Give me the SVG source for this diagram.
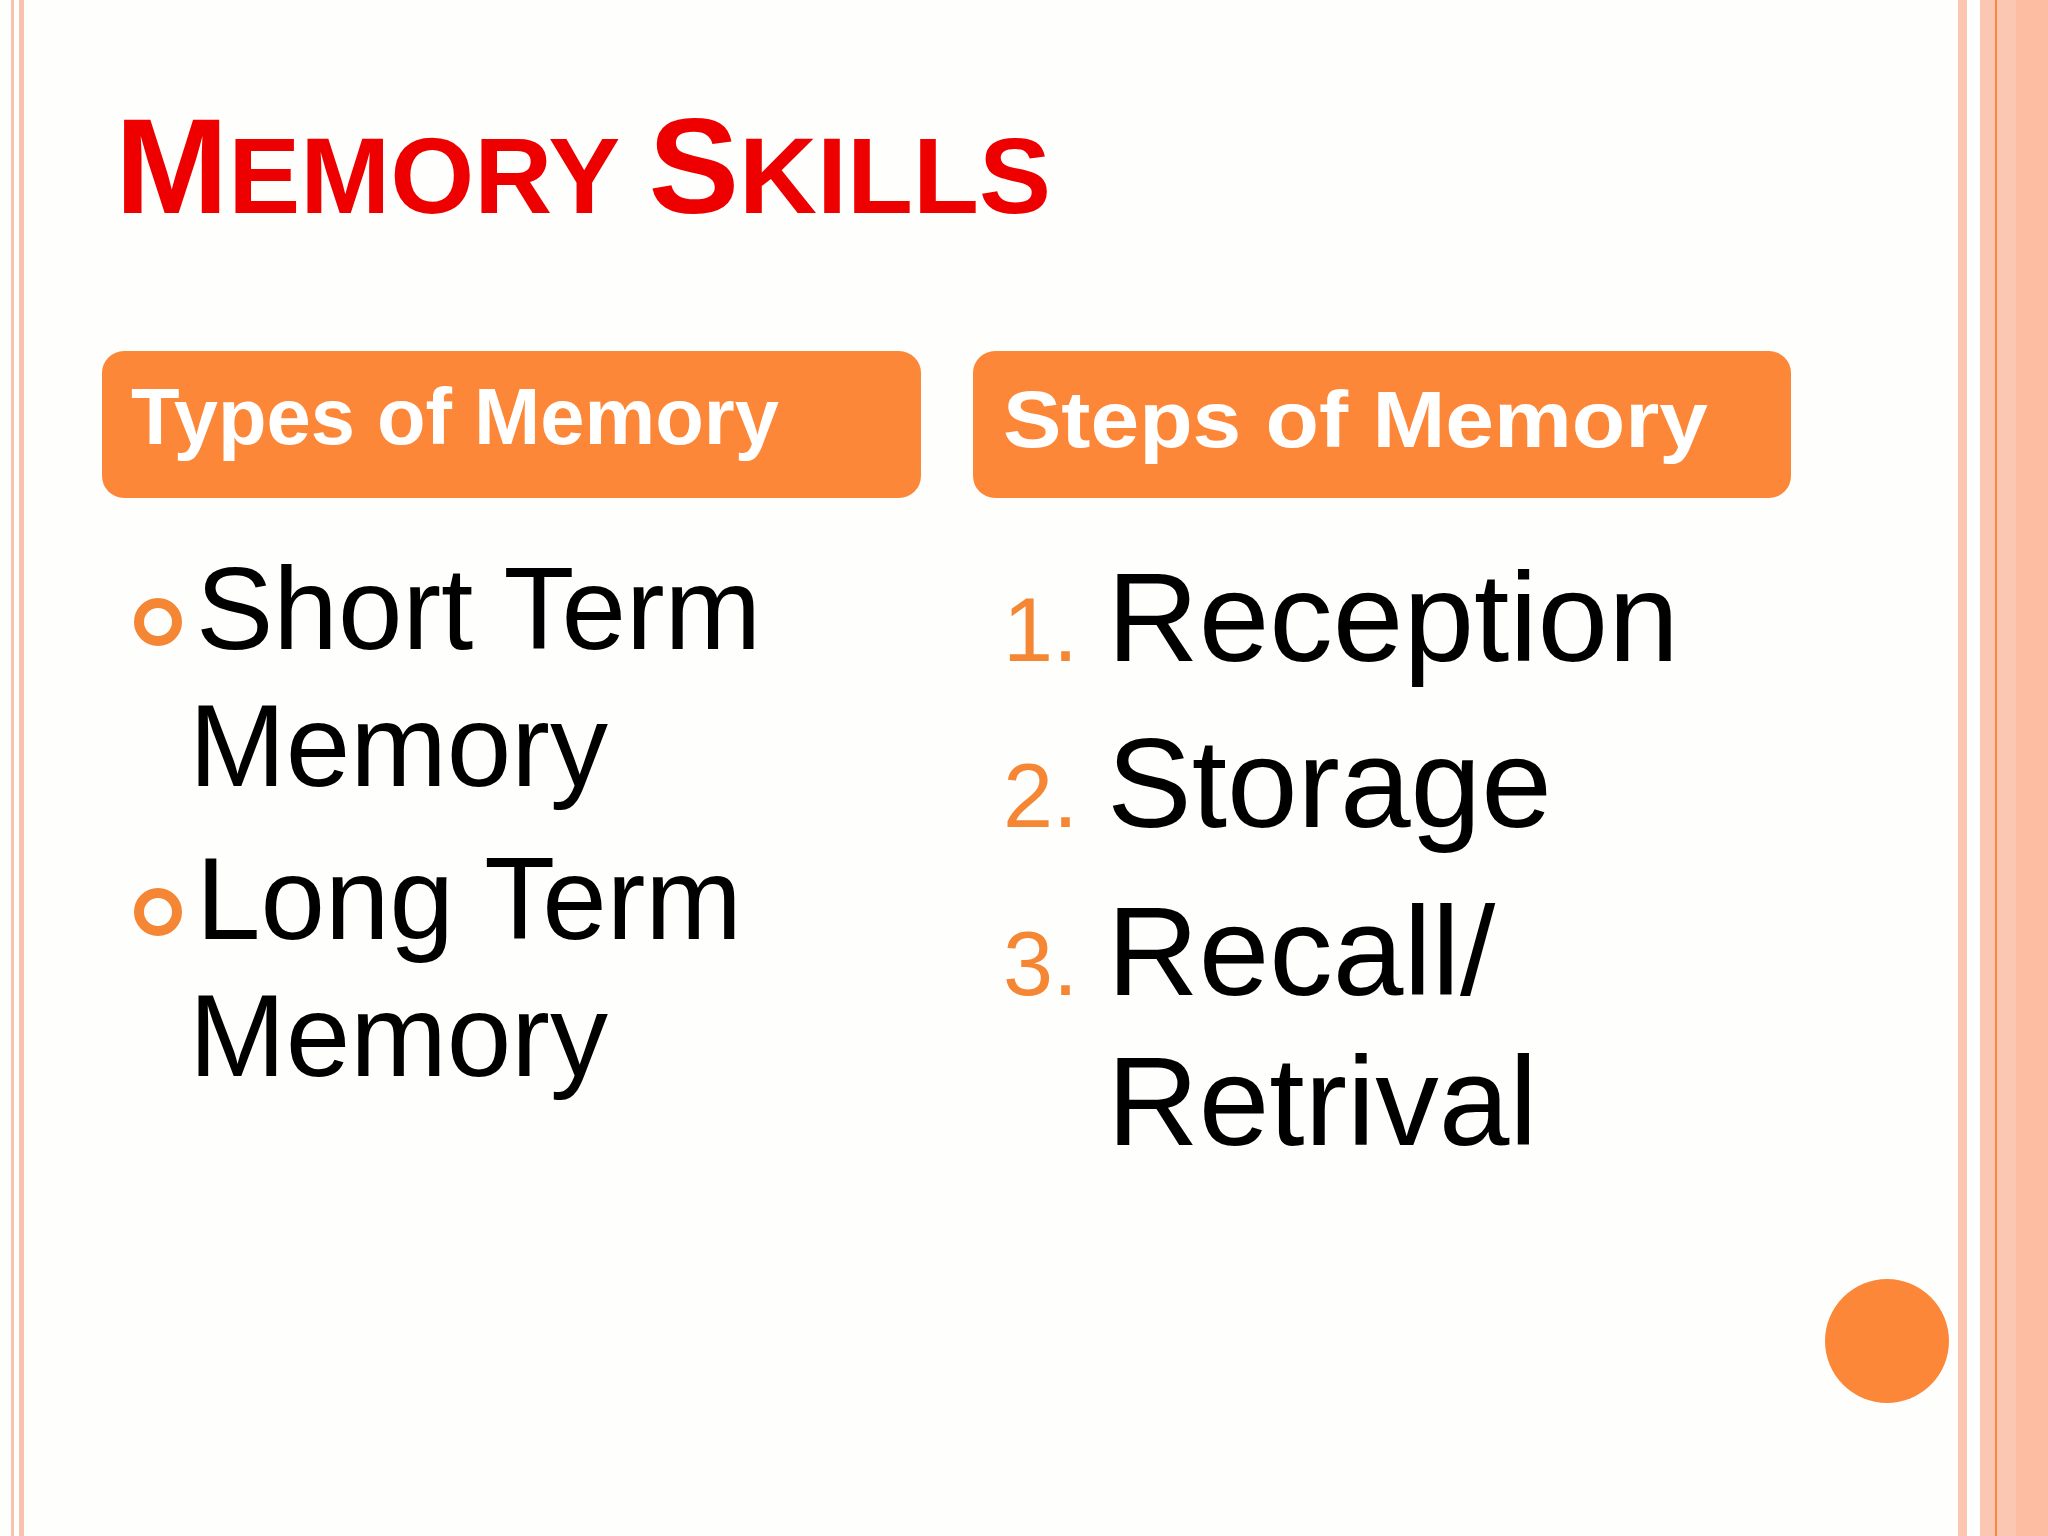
<svg xmlns="http://www.w3.org/2000/svg" width="2048" height="1536" viewBox="0 0 2048 1536">
<style>
.hdr{font-family:"Liberation Sans",Arial,sans-serif;font-weight:bold;fill:#fff;font-size:80px}
.body{font-family:"Liberation Sans",Arial,sans-serif;fill:#000}
.num{font-family:"Liberation Sans",Arial,sans-serif;fill:#f58634;font-size:90px}
.box{fill:#fd8738}
</style>
<rect width="2048" height="1536" fill="#fefefd"/>
<rect x="11" y="0" width="3" height="1536" fill="#f9c2ad"/>
<rect x="19" y="0" width="5" height="1536" fill="#f9c2ad"/>
<rect x="1958" y="0" width="9" height="1536" fill="#fcc6b1"/>
<rect x="1980" y="0" width="68" height="1536" fill="#fcc7b2"/>
<rect x="2016" y="0" width="32" height="1536" fill="#fdbda2"/>
<rect x="1995" y="0" width="2" height="1536" fill="#f7883f"/>
<g id="title"><text x="115" y="213" font-family="Liberation Sans,Arial,sans-serif" font-weight="bold" fill="#ee0000" font-size="136">M<tspan font-size="108">EMORY </tspan>S<tspan font-size="108">KILLS</tspan></text></g>
<g id="types-header"><rect class="box" x="102" y="351" width="819" height="147" rx="22"/><text class="hdr" x="131" y="444" textLength="648" lengthAdjust="spacingAndGlyphs">Types of Memory</text></g>
<g id="steps-header"><rect class="box" x="973" y="351" width="818" height="147" rx="22"/><text class="hdr" x="1003" y="447" textLength="705" lengthAdjust="spacingAndGlyphs">Steps of Memory</text></g>
<g id="types-list">
<circle cx="158" cy="622" r="19" fill="none" stroke="#f58634" stroke-width="10"/>
<circle cx="158" cy="912" r="19" fill="none" stroke="#f58634" stroke-width="10"/>
<text class="body" font-size="116" x="196" y="649">Short Term</text>
<text class="body" font-size="116" x="189" y="786">Memory</text>
<text class="body" font-size="116" x="196" y="939">Long Term</text>
<text class="body" font-size="116" x="189" y="1076">Memory</text>
</g>
<g id="steps-list">
<text class="num" x="1003" y="661">1.</text>
<text class="num" x="1003" y="827">2.</text>
<text class="num" x="1003" y="995">3.</text>
<text class="body" font-size="127" x="1107" y="661">Reception</text>
<text class="body" font-size="127" x="1107" y="827">Storage</text>
<text class="body" font-size="127" x="1107" y="995">Recall/</text>
<text class="body" font-size="127" x="1107" y="1145">Retrival</text>
</g>
<g id="connectors"/>
<circle cx="1887" cy="1341" r="62" fill="#fd8738"/>
</svg>
